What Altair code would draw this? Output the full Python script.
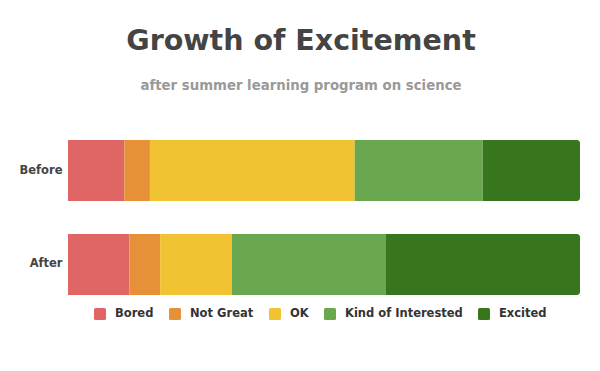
import altair as alt
import pandas as pd

groups = ["Before", "After"]
levels = ["Bored", "Not Great", "OK", "Kind of Interested", "Excited"]
before = [11, 5, 40, 25, 19]
after = [12, 6, 14, 30, 38]
colors = ["#E06666", "#E69138", "#F1C232", "#6AA84F", "#38761D"]

rows = []
for g, vals in zip(groups, [before, after]):
    start = 0
    for lvl, v in zip(levels, vals):
        rows.append({"group": g, "level": lvl, "value": v, "start": start, "end": start + v,
                     "last": lvl == levels[-1]})
        start += v
df = pd.DataFrame(rows)

FONT = "DejaVu Sans"
rounded = ("M-0.75,-1 L0.75,-1 Q1,-1 1,-0.75 L1,0.75 Q1,1 0.75,1 L-0.75,1 "
           "Q-1,1 -1,0.75 L-1,-0.75 Q-1,-1 -0.75,-1 Z")

base = alt.Chart(df).encode(
    y=alt.Y("group:N", sort=groups, title=None,
            scale=alt.Scale(paddingInner=0.35, paddingOuter=0),
            axis=alt.Axis(ticks=False, domain=False, labelFontWeight="bold", labelFontSize=11.5,
                          labelColor="#444444", labelFont=FONT, labelPadding=6)),
    x=alt.X("start:Q", scale=alt.Scale(domain=[0, 100], nice=False), axis=None),
    x2="end:Q",
    color=alt.Color("level:N", sort=levels,
                    scale=alt.Scale(domain=levels, range=colors),
                    legend=alt.Legend(title=None, orient="none", direction="horizontal",
                                      legendX=26, legendY=168, symbolType=rounded,
                                      symbolSize=144, symbolStrokeWidth=0, symbolOpacity=1,
                                      labelFont=FONT, labelFontWeight="bold",
                                      labelFontSize=11.5, labelColor="#333333",
                                      labelOffset=9, columnPadding=15)),
)

bars = base.transform_filter("!datum.last").mark_bar()
last = base.transform_filter("datum.last").mark_bar(cornerRadiusTopRight=3, cornerRadiusBottomRight=3)

chart = alt.layer(bars, last).properties(
    width=512, height=155,
    autosize=alt.AutoSizeParams(type="none"),
    padding={"left": 60, "top": 132, "right": 12, "bottom": 68},
    title=alt.TitleParams(
        text="Growth of Excitement",
        subtitle="after summer learning program on science",
        font=FONT, fontSize=28.5, fontWeight="bold", color="#444444",
        subtitleFont=FONT, subtitleFontSize=13.3, subtitleFontWeight="bold",
        subtitleColor="#999999", subtitlePadding=23, anchor="middle", offset=48, dx=-23,
    ),
).configure_view(stroke=None)

chart.save("out.html", embed_options={"renderer": "svg", "actions": False})
